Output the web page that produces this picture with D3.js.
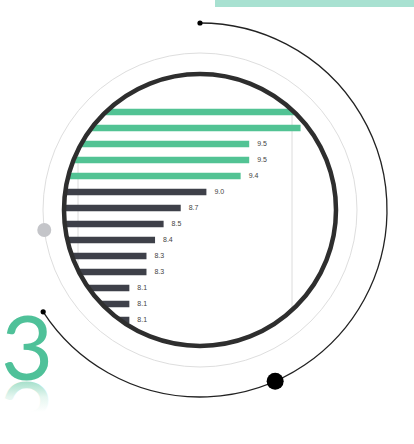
<!DOCTYPE html>
<html><head><meta charset="utf-8">
<script src="https://cdn.jsdelivr.net/npm/d3@7"></script>
<style>html,body{margin:0;padding:0;background:#fff;overflow:hidden}</style>
</head><body>
<script>
const categories = ["A","B","C","D","E","F","G","H","I","J","K","L","M","N"];
const values = [10.3, 10.1, 9.5, 9.5, 9.4, 9.0, 8.7, 8.5, 8.4, 8.3, 8.3, 8.1, 8.1, 8.1];
const highlighted = [true, true, true, true, true, false, false, false, false, false, false, false, false, false];
const gridTicks = [7.5, 10];
const bigNumber = "3";

const W = 414, H = 444;
const cx = 200, cy = 210;
const svg = d3.select("body").append("svg").attr("width", W).attr("height", H);
const defs = svg.append("defs");

defs.append("clipPath").attr("id", "lens")
  .append("circle").attr("cx", cx).attr("cy", cy).attr("r", 134.5);

// gradient in the flipped text's own user space (y=380 baseline, fading toward y=350)
const grad = defs.append("linearGradient").attr("id", "refl")
  .attr("gradientUnits", "userSpaceOnUse")
  .attr("x1", 0).attr("y1", 380).attr("x2", 0).attr("y2", 350);
grad.append("stop").attr("offset", 0).attr("stop-color", "#52c39a").attr("stop-opacity", 0.5);
grad.append("stop").attr("offset", 0.5).attr("stop-color", "#52c39a").attr("stop-opacity", 0.15);
grad.append("stop").attr("offset", 1).attr("stop-color", "#52c39a").attr("stop-opacity", 0);

// top band
svg.append("rect").attr("x", 215).attr("y", 0).attr("width", 199).attr("height", 7).attr("fill", "#a8e1d1");

// scales
const x = d3.scaleLinear().domain([7.5, 10]).range([78, 292]);
const y = d3.scalePoint().domain(categories).range([112, 320]);
const barH = 6.5;

const g = svg.append("g").attr("clip-path", "url(#lens)");
g.selectAll("line.grid").data(gridTicks).join("line")
  .attr("class", "grid")
  .attr("x1", d => x(d)).attr("x2", d => x(d))
  .attr("y1", 60).attr("y2", 360)
  .attr("stroke", "#dcdcdc").attr("stroke-width", 1);

const data = categories.map((c, i) => ({c, v: values[i], h: highlighted[i]}));
g.selectAll("rect.bar").data(data).join("rect")
  .attr("class", "bar")
  .attr("x", 0)
  .attr("y", d => y(d.c) - barH / 2)
  .attr("width", d => x(d.v))
  .attr("height", barH)
  .attr("fill", d => d.h ? "#52c394" : "#3e4049");

g.selectAll("text.val").data(data).join("text")
  .attr("class", "val")
  .attr("x", d => x(d.v) + 8)
  .attr("y", d => y(d.c))
  .attr("dy", "0.35em")
  .attr("font-family", "Liberation Sans, Arial, sans-serif")
  .attr("font-size", 7)
  .attr("fill", "#444")
  .text(d => d3.format(".1f")(d.v));

// circles
svg.append("circle").attr("cx", cx).attr("cy", cy).attr("r", 157)
  .attr("fill", "none").attr("stroke", "#dedede").attr("stroke-width", 1);
svg.append("circle").attr("cx", cx).attr("cy", cy).attr("r", 136)
  .attr("fill", "none").attr("stroke", "#2e2e2e").attr("stroke-width", 4.5);

// outer arc
const R = 187;
const a0 = 0, a1 = 237 * Math.PI / 180;
const arc = d3.arc().innerRadius(R).outerRadius(R).startAngle(a0).endAngle(a1);
svg.append("path").attr("transform", `translate(${cx},${cy})`)
  .attr("d", arc()).attr("fill", "none").attr("stroke", "#222").attr("stroke-width", 1.3);
const pt = (a, r) => [cx + r * Math.sin(a), cy - r * Math.cos(a)];
[[a0, 2.6], [a1, 2.6], [156.3 * Math.PI / 180, 8.5]].forEach(([a, r]) => {
  const p = pt(a, R);
  svg.append("circle").attr("cx", p[0]).attr("cy", p[1]).attr("r", r).attr("fill", "#000");
});
// grey dot
const gp = pt(262.7 * Math.PI / 180, 157);
svg.append("circle").attr("cx", gp[0]).attr("cy", gp[1]).attr("r", 7).attr("fill", "#c4c5c9");

// big number
svg.append("text").attr("x", 1).attr("y", 380)
  .attr("font-family", "Lato, sans-serif").attr("font-weight", 400)
  .attr("font-size", 90).attr("fill", "#4fc199").text(bigNumber);
svg.append("text").attr("x", 1).attr("y", 380)
  .attr("transform", "translate(0,762) scale(1,-1)")
  .attr("font-family", "Lato, sans-serif").attr("font-weight", 400)
  .attr("font-size", 90).attr("fill", "url(#refl)").text(bigNumber);
</script>
</body></html>
